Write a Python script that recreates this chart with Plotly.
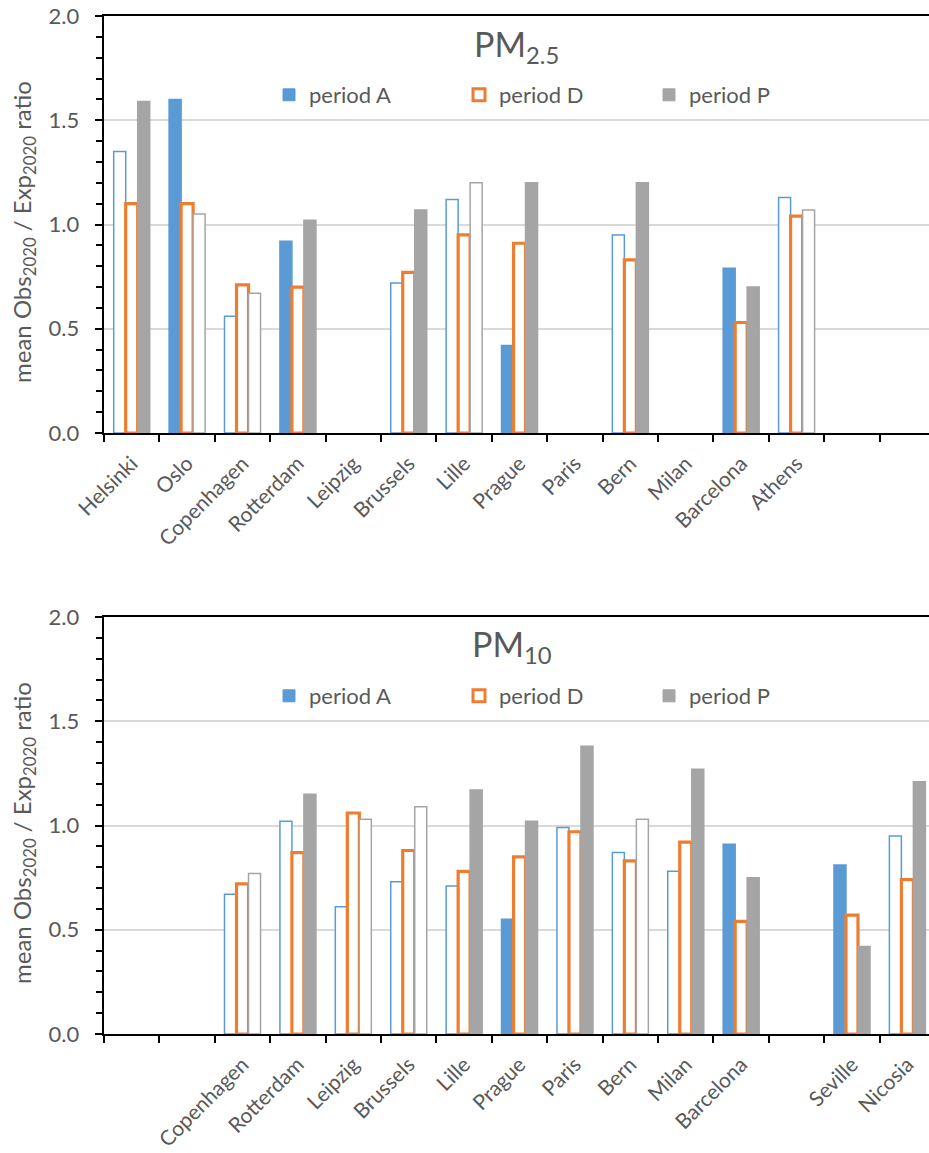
import plotly.graph_objects as go

# slots along the x axis (15 per panel, blanks are empty slots)
pm25_labels = ["Helsinki", "Oslo", "Copenhagen", "Rotterdam", "Leipzig", "Brussels", "Lille",
               "Prague", "Paris", "Bern", "Milan", "Barcelona", "Athens", "", ""]
pm10_labels = ["", "", "Copenhagen", "Rotterdam", "Leipzig", "Brussels", "Lille",
               "Prague", "Paris", "Bern", "Milan", "Barcelona", "", "Seville", "Nicosia"]

# PM2.5 ratios
pm25_A = [1.35, 1.60, 0.56, 0.92, None, 0.72, 1.12, 0.42, None, 0.95, None, 0.79, 1.13, None, None]
pm25_D = [1.10, 1.10, 0.71, 0.70, None, 0.77, 0.95, 0.91, None, 0.83, None, 0.53, 1.04, None, None]
pm25_P = [1.59, 1.05, 0.67, 1.02, None, 1.07, 1.20, 1.20, None, 1.20, None, 0.70, 1.07, None, None]
# filled (True) or outline only (False)
pm25_A_filled = [False, True, False, True, False, False, False, True, False, False, False, True, False, False, False]
pm25_P_filled = [True, False, False, True, False, True, False, True, False, True, False, True, False, False, False]

# PM10 ratios
pm10_A = [None, None, 0.67, 1.02, 0.61, 0.73, 0.71, 0.55, 0.99, 0.87, 0.78, 0.91, None, 0.81, 0.95]
pm10_D = [None, None, 0.72, 0.87, 1.06, 0.88, 0.78, 0.85, 0.97, 0.83, 0.92, 0.54, None, 0.57, 0.74]
pm10_P = [None, None, 0.77, 1.15, 1.03, 1.09, 1.17, 1.02, 1.38, 1.03, 1.27, 0.75, None, 0.42, 1.21]
pm10_A_filled = [False, False, False, False, False, False, False, True, False, False, False, True, False, True, False]
pm10_P_filled = [False, False, False, True, False, False, True, True, True, False, True, True, False, True, True]

BLUE = "#5B9BD5"
ORANGE = "#ED7D31"
GRAY = "#A5A5A5"
TXT = "#595959"
FONT = "Lato"

fig = go.Figure()


def add_panel(xa, ya, leg, A, D, P, A_filled, P_filled):
    xs = list(range(len(A)))
    fig.add_trace(go.Bar(
        x=xs, y=A, xaxis=xa, yaxis=ya, showlegend=False, name="period A", offsetgroup="A",
        marker=dict(color=[BLUE if f else "white" for f in A_filled],
                    line=dict(color=BLUE, width=1.5)),
    ))
    fig.add_trace(go.Bar(
        x=xs, y=D, xaxis=xa, yaxis=ya, showlegend=False, name="period D", offsetgroup="D",
        marker=dict(color="white", line=dict(color=ORANGE, width=3.2)),
    ))
    fig.add_trace(go.Bar(
        x=xs, y=P, xaxis=xa, yaxis=ya, showlegend=False, name="period P", offsetgroup="P",
        marker=dict(color=[GRAY if f else "white" for f in P_filled],
                    line=dict(color=GRAY, width=1.5)),
    ))
    # legend entries
    for name, grp, fill, lc, lw in [("period A", "A", BLUE, BLUE, 1),
                                    ("period D", "D", "white", ORANGE, 3),
                                    ("period P", "P", GRAY, GRAY, 1)]:
        fig.add_trace(go.Bar(
            x=[None], y=[None], xaxis=xa, yaxis=ya, name=name, legend=leg, offsetgroup=grp,
            marker=dict(color=fill, line=dict(color=lc, width=lw)),
        ))


add_panel("x", "y", "legend", pm25_A, pm25_D, pm25_P, pm25_A_filled, pm25_P_filled)
add_panel("x2", "y2", "legend2", pm10_A, pm10_D, pm10_P, pm10_A_filled, pm10_P_filled)

H = 1153
W = 929
L = 104


def px_y(p):
    return 1 - p / H


def px_x(p):
    return (p - L) / (W - L)


def xaxis_cfg(labels, anchor):
    return dict(
        anchor=anchor, domain=[0, 1], range=[-0.5, 14.39],
        tickmode="array", tickvals=list(range(len(labels))), ticktext=labels,
        tickangle=-45, ticks="", showgrid=False, zeroline=False,
        showline=True, linecolor="black", linewidth=2, mirror=True,
        tickfont=dict(family=FONT, size=21, color=TXT), ticklabelstandoff=8,
        minor=dict(tickmode="linear", tick0=-0.5, dtick=1, ticks="outside",
                   ticklen=7, tickwidth=1.5, tickcolor="black", showgrid=False),
        automargin=False, fixedrange=True,
    )


def yaxis_cfg(anchor, domain):
    return dict(
        anchor=anchor, domain=domain, range=[0, 2], dtick=0.5, tickformat=".1f",
        ticksuffix="\u00a0\u00a0",
        ticks="outside", ticklen=7, tickwidth=1.5, tickcolor="black",
        showline=True, linecolor="black", linewidth=2,
        showgrid=True, gridcolor="#D9D9D9", gridwidth=1.5, zeroline=False,
        tickfont=dict(family=FONT, size=22, color=TXT),
        minor=dict(dtick=0.1, ticks="outside", ticklen=6, tickwidth=1.5,
                   tickcolor="black", showgrid=False),
        automargin=False, fixedrange=True,
    )


def legend_cfg(ypx):
    return dict(
        orientation="h", x=px_x(269), y=px_y(ypx), xanchor="left", yanchor="middle",
        entrywidth=145, entrywidthmode="pixels", bgcolor="rgba(0,0,0,0)",
        font=dict(family=FONT, size=22, color=TXT), itemclick=False, itemdoubleclick=False,
    )


ytitle = "mean Obs<sub>2020</sub> / Exp<sub>2020</sub> ratio"

fig.update_layout(
    width=W, height=H,
    margin=dict(l=L, r=0, t=0, b=0),
    paper_bgcolor="white", plot_bgcolor="white",
    barmode="group", bargap=0.35, bargroupgap=0,
    font=dict(family=FONT, color=TXT),
    xaxis=xaxis_cfg(pm25_labels, "y"),
    yaxis=yaxis_cfg("x", [px_y(433), px_y(16)]),
    xaxis2=xaxis_cfg(pm10_labels, "y2"),
    yaxis2=yaxis_cfg("x2", [px_y(1034), px_y(617)]),
    legend=legend_cfg(95),
    legend2=legend_cfg(696),
    annotations=[
        dict(text="PM<sub>2.5</sub>", x=px_x(516), y=px_y(46), xref="paper", yref="paper",
             showarrow=False, xanchor="center", yanchor="middle",
             font=dict(family=FONT, size=34, color=TXT)),
        dict(text="PM<sub>10</sub>", x=px_x(512), y=px_y(646), xref="paper", yref="paper",
             showarrow=False, xanchor="center", yanchor="middle",
             font=dict(family=FONT, size=34, color=TXT)),
        dict(text=ytitle, x=px_x(23), y=px_y(232), xref="paper", yref="paper",
             showarrow=False, xanchor="center", yanchor="middle", textangle=-90,
             font=dict(family=FONT, size=24, color=TXT)),
        dict(text=ytitle, x=px_x(23), y=px_y(833), xref="paper", yref="paper",
             showarrow=False, xanchor="center", yanchor="middle", textangle=-90,
             font=dict(family=FONT, size=24, color=TXT)),
    ],
)

# the page's default body margin would shift the figure by 8px
fig.write_html("out.html", config={"displayModeBar": False},
               post_script="document.body.style.margin='0';")
